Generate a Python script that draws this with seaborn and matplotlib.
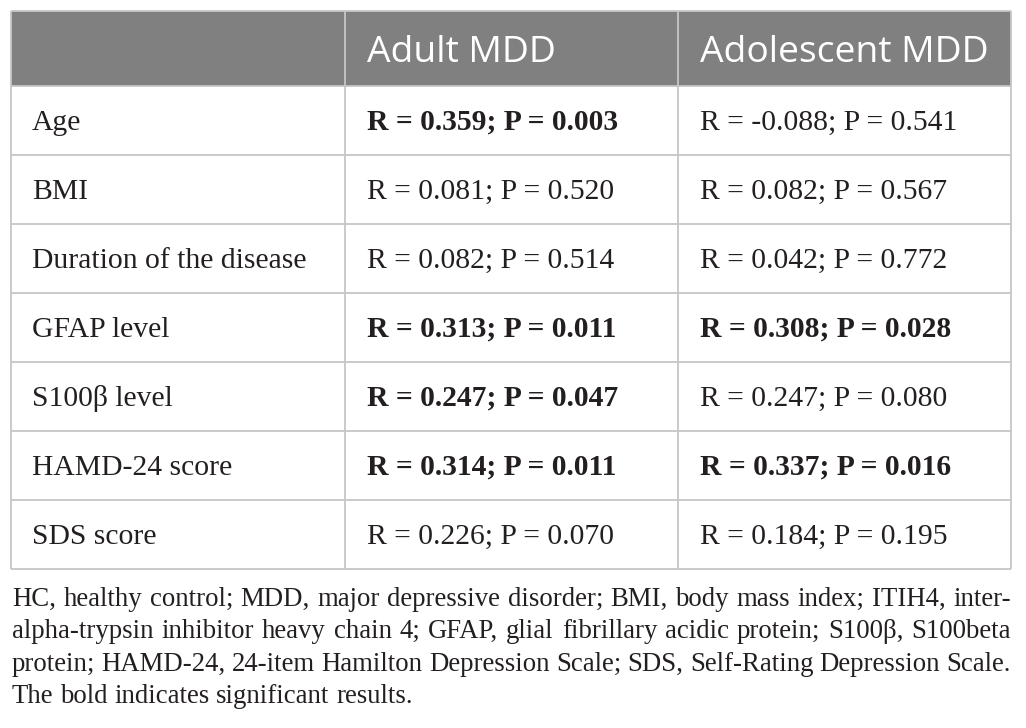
import seaborn as sns
import matplotlib.pyplot as plt

# table content
header = ["", "Adult MDD", "Adolescent MDD"]
variables = ["Age", "BMI", "Duration of the disease", "GFAP level",
             "S100β level", "HAMD-24 score", "SDS score"]
adult_r = [0.359, 0.081, 0.082, 0.313, 0.247, 0.314, 0.226]
adult_p = [0.003, 0.520, 0.514, 0.011, 0.047, 0.011, 0.070]
adol_r = [-0.088, 0.082, 0.042, 0.308, 0.247, 0.337, 0.184]
adol_p = [0.541, 0.567, 0.772, 0.028, 0.080, 0.016, 0.195]

footnote_lines = [
    "HC, healthy control; MDD, major depressive disorder; BMI, body mass index; ITIH4, inter-",
    "alpha-trypsin inhibitor heavy chain 4; GFAP, glial fibrillary acidic protein; S100β, S100beta",
    "protein; HAMD-24, 24-item Hamilton Depression Scale; SDS, Self-Rating Depression Scale.",
    "The bold indicates significant results.",
]

W, H = 1026, 728
left, right = 11, 1011
col_edges = [11, 345, 678, 1011]
top, header_h, row_h = 11, 75, 69
line_color = "#c6c6c6"
text_color = "#231f20"
body_size = 21.3
note_size = 19.3


def fmt(r, p):
    return f"R = {r:.3f}; P = {p:.3f}"


def draw_table(ax):
    row_edges = [top, top + header_h] + [top + header_h + row_h * (i + 1) for i in range(len(variables))]
    bottom = row_edges[-1]

    ax.fill_between([left, right], top, top + header_h, color="#808080", lw=0, zorder=0)
    ax.hlines(row_edges, left, right, color=line_color, lw=1.3, zorder=1)
    ax.vlines(col_edges, top, bottom, color=line_color, lw=1.3, zorder=1)

    # header
    for j, name in enumerate(header):
        ax.text(col_edges[j] + 22, top + 51, name, color="white", fontsize=26.8,
                family=["Open Sans", "DejaVu Sans"], va="baseline", ha="left")

    # body rows
    for i, var in enumerate(variables):
        y = top + header_h + row_h * i + 44
        ax.text(col_edges[0] + 21, y, var, color=text_color, fontsize=body_size,
                family="Liberation Serif", va="baseline")
        cells = [(adult_r[i], adult_p[i]), (adol_r[i], adol_p[i])]
        for j, (r, p) in enumerate(cells):
            ax.text(col_edges[j + 1] + 22, y, fmt(r, p), color=text_color, fontsize=body_size,
                    family="Liberation Serif", va="baseline",
                    fontweight="bold" if p < 0.05 else "normal")
    return bottom


def draw_footnote(ax, fig, y0):
    # justified paragraph: spread the words of each full line across the table width
    renderer = fig.canvas.get_renderer()
    space_w = 0.25 * note_size * 100 / 72
    for k, line in enumerate(footnote_lines):
        y = y0 + 32.3 * k
        words = line.split(" ")
        texts = [ax.text(0, y, w, color=text_color, fontsize=note_size,
                         family="Liberation Serif", va="baseline") for w in words]
        widths = [t.get_window_extent(renderer).width for t in texts]
        if k == len(footnote_lines) - 1:
            gap_w = space_w
        else:
            gap_w = (right - left - 1 - sum(widths)) / (len(words) - 1)
        x = left + 1
        for t, w in zip(texts, widths):
            t.set_x(x)
            x += w + gap_w


def main():
    sns.set_theme(style="white")
    fig = plt.figure(figsize=(W / 100, H / 100), dpi=100)
    ax = fig.add_axes([0, 0, 1, 1])
    ax.set_xlim(0, W)
    ax.set_ylim(H, 0)
    ax.axis("off")

    draw_table(ax)
    draw_footnote(ax, fig, 606)

    fig.savefig("out.png", dpi=100)


if __name__ == "__main__":
    main()
